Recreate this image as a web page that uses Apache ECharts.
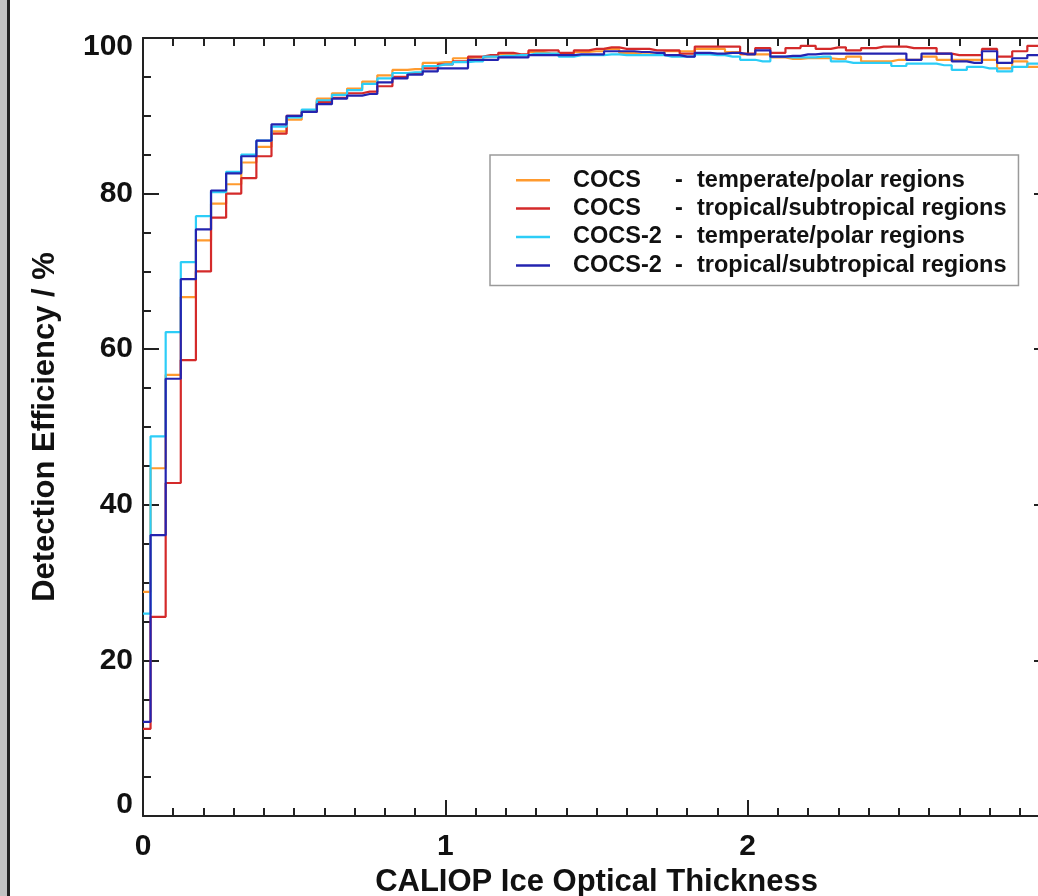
<!DOCTYPE html>
<html>
<head>
<meta charset="utf-8">
<script src="https://cdn.jsdelivr.net/npm/echarts@6/dist/echarts.min.js"></script>
<style>
html,body{margin:0;padding:0;background:#fff;overflow:hidden;width:1038px;height:896px;}
#chart{width:1080px;height:896px;}
</style>
</head>
<body>
<div id="chart"></div>
<script>
// Bin centres (CALIOP ice optical thickness)
const opticalThickness = [0.00,0.05,0.10,0.15,0.20,0.25,0.30,0.35,0.40,0.45,0.50,0.55,0.60,0.65,0.70,0.75,0.80,0.85,0.90,0.95,1.00,1.05,1.10,1.15,1.20,1.25,1.30,1.35,1.40,1.45,1.50,1.55,1.60,1.65,1.70,1.75,1.80,1.85,1.90,1.95,2.00,2.05,2.10,2.15,2.20,2.25,2.30,2.35,2.40,2.45,2.50,2.55,2.60,2.65,2.70,2.75,2.80,2.85,2.90,2.95,3.00];

const cocsTemperate = [28.8,44.7,56.7,66.7,74.0,78.7,81.2,84.0,86.0,88.0,89.5,90.7,92.2,92.9,93.5,94.4,95.2,95.9,96.0,96.8,96.9,97.4,97.5,97.6,97.9,97.8,98.2,98.0,97.9,98.2,98.3,98.6,98.1,97.9,97.9,98.3,98.3,98.6,98.6,98.2,97.9,97.9,97.5,97.3,97.4,97.4,97.3,97.6,97.0,97.0,97.2,97.2,97.6,97.2,97.2,97.2,97.2,96.1,97.0,96.3,96.5];

const cocsTropical = [11.2,25.6,42.8,58.6,70.0,76.9,80.0,82.0,84.8,87.7,90.0,90.5,91.8,92.3,92.9,93.1,93.8,95.0,95.5,96.1,96.6,97.0,97.6,97.8,98.1,97.9,98.4,98.4,98.1,98.4,98.6,98.8,98.6,98.6,98.4,98.4,98.0,98.9,98.9,98.9,98.0,98.7,98.1,98.7,99.0,98.6,98.8,98.4,98.7,98.9,98.9,98.7,98.7,98.0,97.8,97.8,98.6,97.6,98.3,99.0,99.0];

const cocs2Temperate = [26.0,48.8,62.2,71.2,77.1,80.2,82.8,85.0,86.8,88.6,89.8,90.8,92.0,92.7,93.3,94.1,94.8,95.5,95.6,96.4,96.6,96.9,97.0,97.6,97.7,97.8,98.0,98.0,97.6,97.8,97.8,97.9,97.8,97.8,97.8,97.6,97.6,97.9,97.8,97.6,97.2,97.0,97.6,97.5,97.5,97.6,97.0,96.8,96.8,96.8,96.4,96.7,96.7,96.5,95.9,96.3,96.1,95.7,96.3,96.7,96.7];

const cocs2Tropical = [12.1,36.1,56.2,69.0,75.4,80.4,82.6,84.8,86.8,88.9,90.0,90.5,91.5,92.2,92.6,92.8,94.3,94.8,95.3,95.7,96.1,96.1,97.2,97.2,97.5,97.5,97.8,97.8,97.8,97.9,97.9,98.3,98.3,98.2,98.1,97.8,97.6,98.1,98.0,98.1,97.9,98.4,97.6,97.7,97.9,98.0,98.0,98.0,98.0,98.0,98.0,97.2,98.0,98.0,97.0,96.8,98.3,96.8,97.4,97.8,97.8];

const seriesNames = ['COCS|temperate/polar regions','COCS|tropical/subtropical regions','COCS-2|temperate/polar regions','COCS-2|tropical/subtropical regions'];
const seriesValues = [cocsTemperate, cocsTropical, cocs2Temperate, cocs2Tropical];
const seriesColors = ['#ff9a2e','#d42a2a','#2ccdf7','#2424b0'];

const xTicks = [0,1,2,3];
const yTicks = [0,20,40,60,80,100];

const FONT = '"Liberation Sans", Arial, Helvetica, sans-serif';
const AXIS_COLOR = '#222';
const TICK_FS = 30;
const TITLE_FS = 31;
const LEG_FS = 23.5;

const chart = echarts.init(document.getElementById('chart'), null, {renderer:'canvas'});

function pairs(vals){ return opticalThickness.map((x,i)=>[x, vals[i]]); }

const commonX = {
  type:'value', min:xTicks[0], max:xTicks[xTicks.length-1], interval:1,
  axisLine:{show:true, onZero:false, lineStyle:{color:AXIS_COLOR, width:2}},
  axisTick:{show:true, inside:true, length:16, lineStyle:{color:AXIS_COLOR, width:2}},
  minorTick:{show:true, splitNumber:10, length:8, lineStyle:{color:AXIS_COLOR, width:2}},
  splitLine:{show:false}, minorSplitLine:{show:false}
};
const commonY = {
  type:'value', min:yTicks[0], max:yTicks[yTicks.length-1], interval:20,
  axisLine:{show:true, onZero:false, lineStyle:{color:AXIS_COLOR, width:2}},
  axisTick:{show:true, inside:true, length:16, lineStyle:{color:AXIS_COLOR, width:2}},
  minorTick:{show:true, splitNumber:4, length:8, lineStyle:{color:AXIS_COLOR, width:2}},
  splitLine:{show:false}, minorSplitLine:{show:false}
};

const option = {
  backgroundColor:'#ffffff',
  animation:false,
  textStyle:{fontFamily:FONT},
  grid:{left:143, top:38, width:907, height:778, outerBoundsMode:'none'},
  xAxis:[
    Object.assign({}, commonX, {
      position:'bottom',
      name:'CALIOP Ice Optical Thickness', nameLocation:'middle', nameGap:48,
      nameTextStyle:{fontFamily:FONT, fontWeight:'bold', fontSize:TITLE_FS, color:'#111'},
      axisLabel:{show:true, margin:16, fontFamily:FONT, fontWeight:'bold', fontSize:TICK_FS, color:'#111',
        formatter:v=> xTicks.includes(v) ? String(v) : '', showMaxLabel:false}
    }),
    Object.assign({}, commonX, {position:'top', axisLabel:{show:false}})
  ],
  yAxis:[
    Object.assign({}, commonY, {
      position:'left',
      name:'Detection Efficiency / %', nameLocation:'middle', nameGap:82, nameRotate:90,
      nameTextStyle:{fontFamily:FONT, fontWeight:'bold', fontSize:TITLE_FS, color:'#111'},
      axisLabel:{show:true, margin:10, fontFamily:FONT, fontWeight:'bold', fontSize:TICK_FS, color:'#111',
        formatter:v=> v===100 ? '{lo|100}' : (v===0 ? '{hi|0}' : String(v)),
        rich:{
          lo:{fontFamily:FONT, fontWeight:'bold', fontSize:TICK_FS, color:'#111', padding:[18,0,0,0]},
          hi:{fontFamily:FONT, fontWeight:'bold', fontSize:TICK_FS, color:'#111', padding:[0,0,22,0]}
        }}
    }),
    Object.assign({}, commonY, {position:'right', axisLabel:{show:false}})
  ],
  legend:{
    show:true, orient:'vertical', left:490, top:155,
    padding:[11,12,6,26], itemGap:0, itemWidth:34, itemHeight:2.5, icon:'rect',
    backgroundColor:'#fff', borderColor:'#9a9a9a', borderWidth:1.5, borderRadius:0,
    data: seriesNames,
    formatter:function(name){
      const p = name.split('|');
      return '{g| }{a|'+p[0]+'}{b|-}{c|'+p[1]+'}';
    },
    textStyle:{
      fontFamily:FONT, fontWeight:'bold', fontSize:LEG_FS, color:'#111', lineHeight:28.4,
      rich:{
        g:{width:18, fontSize:LEG_FS, lineHeight:28.4},
        a:{width:102, fontFamily:FONT, fontWeight:'bold', fontSize:LEG_FS, color:'#111', lineHeight:28.4},
        b:{width:22, fontFamily:FONT, fontWeight:'bold', fontSize:LEG_FS, color:'#111', lineHeight:28.4},
        c:{fontFamily:FONT, fontWeight:'bold', fontSize:LEG_FS, color:'#111', lineHeight:28.4}
      }
    }
  },
  graphic:[
    {type:'rect', left:0, top:0, shape:{width:7, height:896}, style:{fill:'#c2c2c2'}, z:100},
    {type:'rect', left:7, top:0, shape:{width:3, height:896}, style:{fill:'#222'}, z:100}
  ],
  series: seriesNames.map((n,k)=>({
    name:n, type:'line', step:'middle', xAxisIndex:0, yAxisIndex:0,
    data:pairs(seriesValues[k]), showSymbol:false, symbol:'none',
    lineStyle:{color:seriesColors[k], width:2.2}, itemStyle:{color:seriesColors[k]},
    z:2+k, clip:true
  }))
};
chart.setOption(option);
</script>
</body>
</html>
